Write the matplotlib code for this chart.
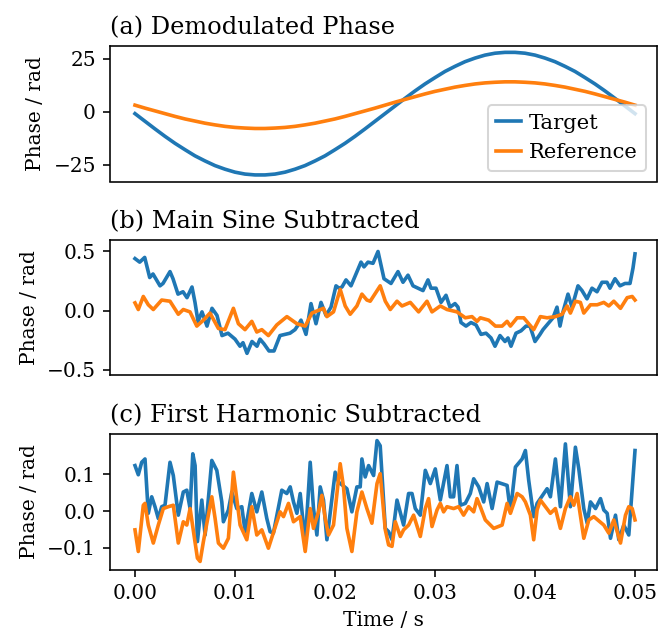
import numpy as np
import matplotlib
matplotlib.use("Agg")
import matplotlib.pyplot as plt

plt.rcParams['font.family'] = ['DejaVu Serif']
plt.rcParams['lines.linewidth'] = 1.8

# (a) demodulated phase, sampled every 1 ms
t_a = np.linspace(0, 0.05, 51)
target_a = [-1.0, -4.6, -8.2, -11.7, -15.0, -18.0, -20.9, -23.3, -25.5, -27.2,
            -28.6, -29.5, -29.9, -29.9, -29.5, -28.6, -27.2, -25.5, -23.3, -20.9,
            -18.0, -15.0, -11.7, -8.2, -4.6, -1.0, 2.6, 6.2, 9.7, 13.0,
            16.0, 18.9, 21.3, 23.5, 25.2, 26.6, 27.5, 27.9, 27.9, 27.5,
            26.6, 25.2, 23.5, 21.3, 18.9, 16.0, 13.0, 9.7, 6.2, 2.6, -1.0]
reference_a = [3.0, 1.6, 0.3, -1.0, -2.3, -3.5, -4.5, -5.5, -6.3, -7.0,
               -7.5, -7.8, -8.0, -8.0, -7.8, -7.5, -7.0, -6.3, -5.5, -4.5,
               -3.5, -2.3, -1.0, 0.3, 1.6, 3.0, 4.4, 5.7, 7.0, 8.3,
               9.5, 10.5, 11.5, 12.3, 13.0, 13.5, 13.8, 14.0, 14.0, 13.8,
               13.5, 13.0, 12.3, 11.5, 10.5, 9.5, 8.3, 7.0, 5.7, 4.4, 3.0]

# (b) main sine subtracted: (time, phase)
target_b = [(0.0, 0.44), (0.00047, 0.41), (0.00097, 0.45), (0.00147, 0.28), (0.0018, 0.31),
            (0.0025, 0.21), (0.0028, 0.23), (0.0035, 0.33), (0.0038, 0.27), (0.0043, 0.14),
            (0.0048, 0.16), (0.0052, 0.11), (0.0057, 0.20), (0.0060, 0.07), (0.0063, -0.09),
            (0.0067, -0.01), (0.0072, -0.13), (0.0077, 0.02), (0.0082, -0.04), (0.0087, -0.21),
            (0.0093, -0.19), (0.0100, -0.24), (0.0105, -0.30), (0.0108, -0.27), (0.0112, -0.36),
            (0.0117, -0.26), (0.0122, -0.30), (0.0125, -0.24), (0.0129, -0.28), (0.0134, -0.34),
            (0.0139, -0.34), (0.0145, -0.21), (0.0150, -0.20), (0.0155, -0.19), (0.0160, -0.16),
            (0.0164, -0.11), (0.0166, -0.08), (0.0171, -0.20), (0.0176, 0.06), (0.0181, -0.11),
            (0.0186, 0.07), (0.0191, -0.04), (0.0196, 0.03), (0.0201, 0.21), (0.0204, 0.19),
            (0.0207, 0.20), (0.0211, 0.26), (0.0216, 0.21), (0.0221, 0.31), (0.0226, 0.41),
            (0.0229, 0.37), (0.0233, 0.41), (0.0238, 0.40), (0.0243, 0.50), (0.0249, 0.27),
            (0.0256, 0.23), (0.0263, 0.33), (0.0268, 0.24), (0.0273, 0.30), (0.0278, 0.21),
            (0.0283, 0.19), (0.0288, 0.17), (0.0293, 0.26), (0.0296, 0.19), (0.0301, 0.19),
            (0.0306, 0.07), (0.0311, 0.13), (0.0315, 0.03), (0.0320, 0.06), (0.0323, 0.03),
            (0.0326, -0.10), (0.0331, -0.13), (0.0336, -0.10), (0.0341, -0.12), (0.0346, -0.20),
            (0.0351, -0.19), (0.0356, -0.23), (0.0360, -0.30), (0.0365, -0.21), (0.0370, -0.26),
            (0.0373, -0.23), (0.0376, -0.30), (0.0381, -0.19), (0.0386, -0.17), (0.0391, -0.13),
            (0.0395, -0.13), (0.0400, -0.26), (0.0405, -0.20), (0.0408, -0.16), (0.0413, -0.11),
            (0.0418, -0.06), (0.0422, 0.03), (0.0425, -0.13), (0.0428, -0.01), (0.0433, 0.14),
            (0.0437, 0.03), (0.0443, 0.21), (0.0447, 0.17), (0.0452, 0.10), (0.0457, 0.19),
            (0.0462, 0.16), (0.0467, 0.24), (0.0472, 0.24), (0.0475, 0.19), (0.0480, 0.27),
            (0.0485, 0.21), (0.0490, 0.23), (0.0495, 0.23), (0.0498, 0.36), (0.0500, 0.48)]
reference_b = [(0.0, 0.066), (0.00033, 0.01), (0.00083, 0.12), (0.00133, 0.05), (0.00183, 0.01),
               (0.00267, 0.09), (0.0035, 0.08), (0.00433, -0.03), (0.00483, 0.01), (0.0055, -0.01),
               (0.00618, -0.13), (0.00684, -0.08), (0.0075, -0.02), (0.00834, -0.15), (0.0090, -0.16),
               (0.00984, 0.02), (0.01034, -0.11), (0.0110, -0.16), (0.01168, -0.09), (0.01218, -0.18),
               (0.01268, -0.16), (0.01334, -0.21), (0.01418, -0.12), (0.01519, -0.05), (0.01619, -0.11),
               (0.01702, -0.13), (0.01769, -0.02), (0.01885, 0.02), (0.01919, -0.05), (0.01985, -0.01),
               (0.02052, 0.18), (0.02102, 0.04), (0.02152, -0.03), (0.02219, 0.04), (0.02269, 0.14),
               (0.02319, 0.09), (0.02352, 0.08), (0.02452, 0.21), (0.02503, 0.08), (0.02553, 0.01),
               (0.0262, 0.08), (0.0267, 0.04), (0.02753, 0.07), (0.02836, -0.01), (0.0292, 0.08),
               (0.0297, -0.01), (0.03053, 0.04), (0.0312, 0.01), (0.0322, -0.01), (0.03303, -0.06),
               (0.0337, -0.05), (0.0342, -0.09), (0.03453, -0.06), (0.03537, -0.08), (0.03604, -0.13),
               (0.03671, -0.13), (0.03721, -0.09), (0.03754, -0.13), (0.03821, -0.06), (0.03887, -0.06),
               (0.03987, -0.16), (0.04054, -0.05), (0.04121, -0.06), (0.04204, -0.05), (0.04271, -0.03),
               (0.04321, 0.04), (0.04354, -0.02), (0.04404, 0.08), (0.04454, 0.07), (0.04488, -0.02),
               (0.04555, 0.05), (0.04622, 0.05), (0.04688, 0.07), (0.04738, 0.04), (0.04788, 0.08),
               (0.04855, 0.02), (0.04922, 0.11), (0.04972, 0.12), (0.0500, 0.09)]

# (c) first harmonic subtracted: (time, phase)
target_c = [(0.0, 0.124), (0.00033, 0.099), (0.00067, 0.133), (0.0010, 0.142), (0.00133, -0.006),
            (0.00167, 0.039), (0.0020, 0.012), (0.00233, -0.020), (0.00267, 0.012), (0.0030, 0.016),
            (0.0035, 0.133), (0.00383, 0.097), (0.00433, -0.011), (0.00483, 0.052), (0.00518, 0.057),
            (0.00551, 0.007), (0.00578, 0.156), (0.00601, 0.124), (0.00624, -0.083), (0.00668, 0.030),
            (0.00701, -0.065), (0.00768, 0.138), (0.00818, 0.111), (0.00868, 0.025), (0.00884, -0.029),
            (0.00934, 0.003), (0.00968, 0.052), (0.01018, 0.007), (0.01068, 0.012), (0.01101, -0.056),
            (0.01168, 0.048), (0.01218, -0.002), (0.01268, 0.052), (0.01318, -0.020), (0.01351, -0.056),
            (0.01384, -0.060), (0.01468, 0.057), (0.01518, 0.048), (0.01552, 0.066), (0.01585, 0.025),
            (0.01619, -0.006), (0.01652, 0.048), (0.01702, -0.087), (0.01752, 0.133), (0.01785, 0.007),
            (0.01819, -0.065), (0.01852, 0.066), (0.01885, 0.030), (0.01919, -0.078), (0.02002, 0.106),
            (0.02035, 0.079), (0.02119, 0.061), (0.02169, -0.002), (0.02219, 0.066), (0.02252, 0.066),
            (0.02269, 0.142), (0.02302, 0.093), (0.02336, 0.124), (0.02386, 0.097), (0.0242, 0.192),
            (0.02452, 0.178), (0.02503, -0.047), (0.02536, -0.056), (0.0257, -0.078), (0.0262, 0.030),
            (0.02686, -0.038), (0.02736, 0.048), (0.0277, 0.048), (0.02803, 0.007), (0.02853, -0.011),
            (0.02903, 0.111), (0.02953, 0.075), (0.03003, 0.115), (0.03053, 0.030), (0.0312, 0.124),
            (0.03153, 0.039), (0.03186, 0.039), (0.0322, 0.124), (0.03253, 0.016), (0.03303, 0.021),
            (0.03353, 0.048), (0.03387, 0.088), (0.03437, 0.066), (0.03487, 0.025), (0.03521, 0.075),
            (0.03571, 0.007), (0.03621, 0.079), (0.03721, 0.070), (0.03754, -0.002), (0.03804, 0.120),
            (0.03871, 0.142), (0.03904, 0.165), (0.03937, 0.084), (0.03987, -0.015), (0.04021, 0.021),
            (0.04121, 0.061), (0.04154, 0.039), (0.04204, 0.142), (0.04254, 0.012), (0.04304, 0.183),
            (0.04354, 0.012), (0.04404, 0.174), (0.04438, 0.115), (0.04488, 0.007), (0.04522, -0.033),
            (0.04555, 0.025), (0.04605, 0.007), (0.04655, 0.034), (0.04688, 0.003), (0.04722, -0.006),
            (0.04755, -0.074), (0.04805, -0.011), (0.04838, -0.078), (0.04888, -0.038), (0.04938, -0.065),
            (0.0500, 0.165)]
reference_c = [(0.0, -0.051), (0.00033, -0.110), (0.00083, 0.016), (0.0010, 0.021), (0.00133, -0.038),
               (0.00183, -0.087), (0.00233, -0.038), (0.00283, 0.007), (0.00333, 0.012), (0.00383, 0.016),
               (0.00433, -0.087), (0.00483, -0.029), (0.00518, -0.038), (0.00551, 0.007), (0.00624, -0.128),
               (0.00651, -0.137), (0.00684, -0.083), (0.00768, 0.039), (0.00801, -0.020), (0.00834, -0.087),
               (0.00884, -0.101), (0.00934, -0.074), (0.00984, 0.106), (0.01051, -0.038), (0.01118, -0.078),
               (0.01168, 0.012), (0.01218, -0.065), (0.01268, -0.051), (0.01334, -0.101), (0.01451, -0.002),
               (0.01485, -0.015), (0.01535, 0.021), (0.01585, -0.029), (0.01652, -0.015), (0.01702, -0.110),
               (0.01752, 0.007), (0.01785, -0.047), (0.01835, -0.002), (0.01869, 0.043), (0.01902, -0.020),
               (0.01935, -0.065), (0.01985, -0.038), (0.02052, 0.129), (0.02085, 0.066), (0.02119, -0.047),
               (0.02169, -0.110), (0.02219, -0.002), (0.02269, 0.052), (0.02319, 0.007), (0.02369, -0.033),
               (0.0242, 0.075), (0.02452, 0.102), (0.02503, -0.051), (0.02536, -0.092), (0.0257, -0.096),
               (0.02603, -0.029), (0.02653, -0.069), (0.02686, -0.051), (0.02736, -0.038), (0.02786, -0.011),
               (0.02853, -0.069), (0.02903, 0.007), (0.02936, 0.034), (0.0297, -0.042), (0.0302, 0.003),
               (0.03053, 0.021), (0.03086, -0.002), (0.0312, 0.012), (0.03186, 0.007), (0.03236, 0.012),
               (0.03286, -0.011), (0.03336, 0.012), (0.03387, -0.002), (0.0342, 0.034), (0.03453, 0.012),
               (0.03503, -0.024), (0.03587, -0.047), (0.03671, -0.038), (0.03721, 0.021), (0.03754, -0.006),
               (0.03821, 0.048), (0.03871, 0.039), (0.03904, 0.025), (0.03954, -0.011), (0.03987, -0.078),
               (0.04021, 0.003), (0.04054, 0.030), (0.04154, -0.006), (0.04204, 0.007), (0.04254, -0.047),
               (0.04304, 0.007), (0.04354, 0.039), (0.04388, 0.016), (0.04421, 0.048), (0.04488, -0.074),
               (0.04538, -0.024), (0.04588, -0.015), (0.04688, -0.038), (0.04738, -0.060), (0.04788, -0.024),
               (0.04855, -0.087), (0.04905, -0.011), (0.04938, 0.012), (0.04972, 0.007), (0.0500, -0.024)]

titles = ['(a) Demodulated Phase', '(b) Main Sine Subtracted', '(c) First Harmonic Subtracted']
yticks = [[-25, 0, 25], [-0.5, 0.0, 0.5], [-0.1, 0.0, 0.1]]
ylims = [(-33.0, 30.9), (-0.543, 0.597), (-0.159, 0.210)]

W, H, DPI = 659, 635, 145
fig = plt.figure(figsize=(W / DPI, H / DPI), dpi=DPI)

# axes boxes in pixels: (top, bottom)
boxes = [(46, 181.5), (240, 375), (434, 569.5)]
left, right = 110, 657
axes = []
for top, bot in boxes:
    ax = fig.add_axes([left / W, 1 - bot / H, (right - left) / W, (bot - top) / H])
    axes.append(ax)

axes[0].plot(t_a, target_a, label='Target')
axes[0].plot(t_a, reference_a, label='Reference')
axes[0].legend(loc='lower right', fontsize=10.5, handlelength=1.15, handletextpad=0.4)

for ax, tgt, ref in [(axes[1], target_b, reference_b), (axes[2], target_c, reference_c)]:
    tt, vt = zip(*tgt)
    tr, vr = zip(*ref)
    ax.plot(tt, vt)
    ax.plot(tr, vr)

for i, ax in enumerate(axes):
    ax.set_title(titles[i], loc='left')
    ax.set_ylabel('Phase / rad')
    ax.set_yticks(yticks[i])
    ax.set_ylim(*ylims[i])
    ax.set_xlim(-0.0025, 0.0522)
    if i < 2:
        ax.tick_params(axis='x', bottom=False, labelbottom=False)

axes[2].set_xticks([0.0, 0.01, 0.02, 0.03, 0.04, 0.05])
axes[2].set_xlabel('Time / s')

fig.savefig('out.png', dpi=DPI)
